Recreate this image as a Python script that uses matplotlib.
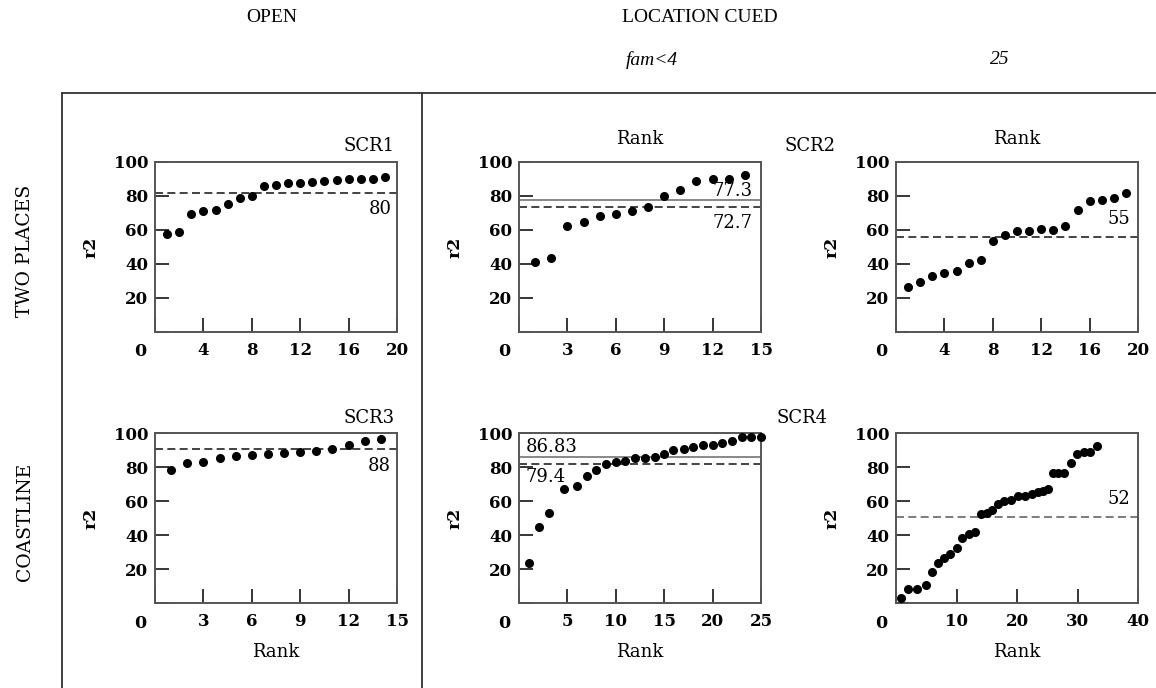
import matplotlib
matplotlib.use("Agg")
import matplotlib.pyplot as plt
from matplotlib.lines import Line2D

# ── data ────────────────────────────────────────────────────────────────
scr1_rank = [1, 2, 3, 4, 5, 6, 7, 8, 9, 10, 11, 12, 13, 14, 15, 16, 17, 18, 19]
scr1_r2 = [57.8, 58.8, 69.6, 71.2, 71.6, 75.5, 78.6, 79.8, 85.7, 86.7,
           87.8, 87.8, 88.4, 88.8, 89.4, 89.8, 89.8, 90.2, 91.2]

scr2_fam_rank = [1, 2, 3, 4, 5, 6, 7, 8, 9, 10, 11, 12, 13, 14]
scr2_fam_r2 = [41.2, 43.3, 62.2, 64.7, 68.4, 69.4, 71.2, 73.5, 79.8, 83.3,
               88.6, 89.8, 90.0, 92.2]

scr2_25_rank = [1, 2, 3, 4, 5, 6, 7, 8, 9, 10, 11, 12, 13, 14, 15, 16, 17, 18, 19]
scr2_25_r2 = [26.5, 29.2, 33.1, 34.9, 35.9, 40.6, 42.2, 53.5, 57.1, 59.4,
              59.4, 60.6, 60.2, 62.5, 71.6, 77.3, 77.8, 78.6, 82.0]

scr3_rank = [1, 2, 3, 4, 5, 6, 7, 8, 9, 10, 11, 12, 13, 14]
scr3_r2 = [78.0, 82.3, 83.1, 85.1, 86.6, 87.2, 87.8, 88.2, 88.8, 89.6,
           90.8, 92.7, 95.3, 96.3]

scr4_fam_rank = [1.05, 2.1, 3.1, 4.6, 6.0, 7.0, 8.0, 9.0, 10.0, 11.0, 12.0, 13.0,
                 14.0, 15.0, 15.9, 17.0, 18.0, 19.0, 20.0, 21.0, 22.0, 23.0, 24.0, 25.0]
scr4_fam_r2 = [23.5, 44.6, 52.8, 67.2, 69.0, 74.9, 78.4, 81.7, 82.9, 83.3, 85.3, 85.3,
               85.9, 87.8, 89.8, 90.8, 91.6, 92.7, 92.9, 94.1, 95.5, 97.4, 97.4, 97.6]

scr4_25_rank = [0.9, 2.0, 3.4, 4.9, 5.9, 6.9, 7.9, 9.0, 10.1, 10.9, 12.0, 13.1,
                14.0, 15.0, 15.8, 16.9, 17.9, 19.0, 20.2, 21.3, 22.4, 23.4, 24.3, 25.2,
                26.0, 26.8, 27.8, 29.0, 29.9, 31.0, 32.1, 33.3]
scr4_25_r2 = [3.1, 8.0, 8.0, 10.6, 18.4, 23.7, 26.3, 28.6, 32.5, 38.0, 40.8, 42.0,
              52.2, 53.1, 54.9, 58.2, 60.0, 60.6, 62.8, 62.9, 64.1, 65.1, 65.9, 66.9,
              76.3, 76.3, 76.3, 82.5, 87.5, 88.6, 88.6, 92.5]

W, H = 1156, 688
SERIF = "DejaVu Serif"
HEAD = "Liberation Serif"

fig = plt.figure(figsize=(W / 100, H / 100), dpi=100)


def make_axes(left, top, xmax, xstep):
    ax = fig.add_axes([left / W, 1 - (top + 170) / H, 242 / W, 170 / H])
    ax.set_xlim(0, xmax)
    ax.set_ylim(0, 100)
    xt = list(range(0, xmax + 1, xstep))
    ax.set_xticks(xt)
    ax.set_xticklabels([""] + [str(v) for v in xt[1:]])
    ax.set_yticks([0, 20, 40, 60, 80, 100])
    ax.set_yticklabels(["", "20", "40", "60", "80", "100"])
    ax.tick_params(direction="in", length=10, width=1.1, color="black",
                   labelsize=12, top=False, right=False)
    ax.tick_params(axis="x", pad=7)
    ax.tick_params(axis="y", pad=5)
    for lab in ax.get_xticklabels() + ax.get_yticklabels():
        lab.set_family(SERIF)
        lab.set_fontweight("bold")
    for sp in ax.spines.values():
        sp.set_color("#555555")
        sp.set_linewidth(1.4)
    # corner "0" sits left of the axis origin
    ax.annotate("0", xy=(0, 0), xycoords="axes fraction", xytext=(-15, -20),
                textcoords="offset pixels", ha="center", va="center",
                family=SERIF, fontweight="bold", fontsize=12.5)
    ax.set_ylabel("r2", family=SERIF, fontweight="bold", fontsize=12.5, labelpad=10)
    return ax


def dots(ax, x, y):
    ax.plot(x, y, "o", color="black", markersize=5.5, clip_on=False, zorder=3)


def note(ax, x, y, s, ha):
    ax.text(x, y, s, ha=ha, va="center", family=SERIF, fontsize=13)


def off_text(ax, s, fx, fy, dx, dy, ha="center"):
    ax.annotate(s, xy=(fx, fy), xycoords="axes fraction", xytext=(dx, dy),
                textcoords="offset pixels", ha=ha, va="center",
                family=SERIF, fontsize=13)


dash_kw = dict(linestyle=(0, (4.8, 2.6)), linewidth=1.2)

# top left: SCR1 open
ax1 = make_axes(155, 162, 20, 4)
dots(ax1, scr1_rank, scr1_r2)
ax1.axhline(81.8, color="#222222", **dash_kw)
note(ax1, 19.6, 72.5, "80", "right")
off_text(ax1, "SCR1", 1.0, 1.0, -2, 16, ha="right")

# top middle: SCR2 fam<4
ax2 = make_axes(519, 162, 15, 3)
dots(ax2, scr2_fam_rank, scr2_fam_r2)
ax2.axhline(77.5, color="#888888", linewidth=1.4)
ax2.axhline(73.5, color="#222222", **dash_kw)
note(ax2, 14.5, 82.7, "77.3", "right")
note(ax2, 14.5, 64.1, "72.7", "right")
off_text(ax2, "Rank", 0.5, 1.0, 0, 23)
off_text(ax2, "SCR2", 1.0, 1.0, 23, 16, ha="left")

# top right: SCR2 25
ax3 = make_axes(896, 162, 20, 4)
dots(ax3, scr2_25_rank, scr2_25_r2)
ax3.axhline(55.9, color="#222222", **dash_kw)
note(ax3, 19.4, 66.5, "55", "right")
off_text(ax3, "Rank", 0.5, 1.0, 0, 23)

# bottom left: SCR3 open
ax4 = make_axes(155, 433, 15, 3)
dots(ax4, scr3_rank, scr3_r2)
ax4.axhline(90.6, color="#222222", **dash_kw)
note(ax4, 14.6, 80.4, "88", "right")
off_text(ax4, "SCR3", 1.0, 1.0, -2, 15, ha="right")
off_text(ax4, "Rank", 0.5, 0.0, 0, -49)

# bottom middle: SCR4 fam<4
ax5 = make_axes(519, 433, 25, 5)
dots(ax5, scr4_fam_rank, scr4_fam_r2)
ax5.axhline(86.0, color="#888888", linewidth=1.4)
ax5.axhline(81.9, color="#222222", **dash_kw)
note(ax5, 0.72, 91.5, "86.83", "left")
note(ax5, 0.72, 74.1, "79.4", "left")
off_text(ax5, "SCR4", 1.0, 1.0, 15, 15, ha="left")
off_text(ax5, "Rank", 0.5, 0.0, 0, -49)

# bottom right: SCR4 25
ax6 = make_axes(896, 433, 40, 10)
dots(ax6, scr4_25_rank, scr4_25_r2)
ax6.axhline(50.8, color="#666666", **dash_kw)
note(ax6, 38.7, 61.1, "52", "right")
off_text(ax6, "Rank", 0.5, 0.0, 0, -49)

# ── frame and headers ───────────────────────────────────────────────────
def fig_line(x0, y0, x1, y1):
    fig.add_artist(Line2D([x0 / W, x1 / W], [1 - y0 / H, 1 - y1 / H],
                          transform=fig.transFigure, color="#333333", linewidth=1.3))


fig_line(62, 93, W, 93)
fig_line(62, 93, 62, H)
fig_line(422, 93, 422, H)

fig.text(272 / W, 1 - 18 / H, "OPEN", ha="center", va="center", family=HEAD, fontsize=14)
fig.text(700 / W, 1 - 18 / H, "LOCATION CUED", ha="center", va="center",
         family=HEAD, fontsize=14)
fig.text(652 / W, 1 - 60 / H, "fam<4", ha="center", va="center", family=HEAD,
         style="italic", fontsize=14)
fig.text(1000 / W, 1 - 60 / H, "25", ha="center", va="center", family=HEAD,
         style="italic", fontsize=14)
fig.text(25 / W, 1 - 251 / H, "TWO PLACES", rotation=90, ha="center", va="center",
         family=SERIF, fontsize=13.5)
fig.text(25 / W, 1 - 522 / H, "COASTLINE", rotation=90, ha="center", va="center",
         family=SERIF, fontsize=13.5)

fig.savefig("out.png", dpi=100, facecolor="white")
